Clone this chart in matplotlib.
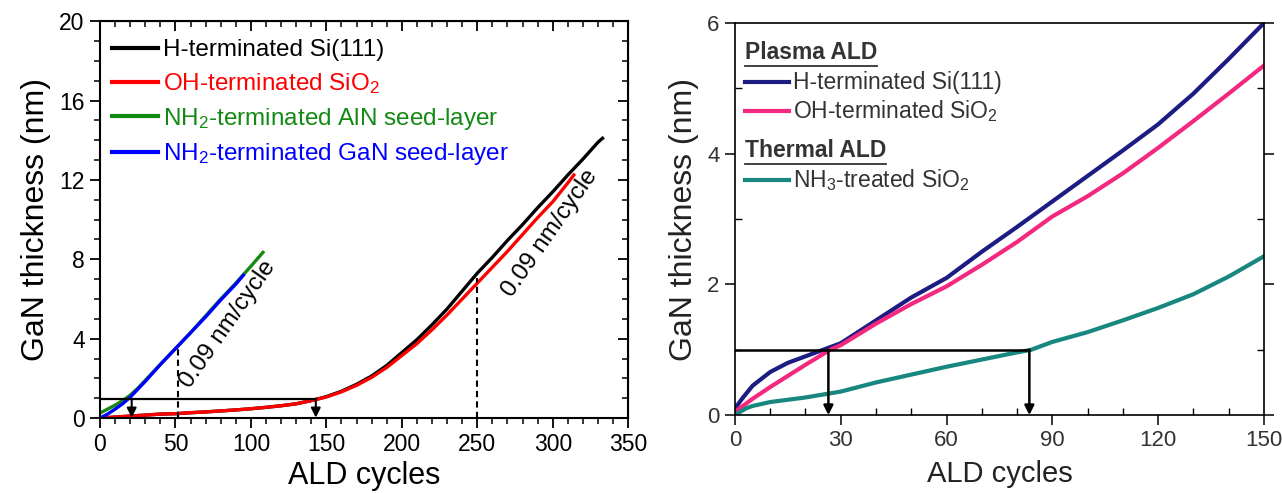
import matplotlib.pyplot as plt
import numpy as np
from matplotlib.ticker import MultipleLocator

plt.rcParams['font.family'] = ['Liberation Sans', 'DejaVu Sans']
plt.rcParams['mathtext.default'] = 'regular'

# ---- left panel data (ALD cycles, GaN thickness nm) ----
si_x = [0, 10, 20, 30, 40, 50, 60, 70, 80, 90, 100, 110, 120, 130, 140, 150, 160, 170, 180,
        190, 200, 210, 220, 230, 240, 250, 260, 270, 280, 290, 300, 310, 320, 330, 333]
si_y = [0, 0.05, 0.1, 0.15, 0.2, 0.22, 0.27, 0.31, 0.36, 0.41, 0.47, 0.54, 0.62, 0.72, 0.88,
        1.08, 1.35, 1.7, 2.12, 2.65, 3.3, 3.95, 4.7, 5.5, 6.4, 7.3, 8.1, 8.95, 9.75, 10.6,
        11.4, 12.25, 13.05, 13.9, 14.1]
sio2_x = [0, 10, 20, 30, 40, 50, 60, 70, 80, 90, 100, 110, 120, 130, 140, 150, 160, 170, 180,
          190, 200, 210, 220, 230, 240, 250, 260, 270, 280, 290, 300, 310, 314]
sio2_y = [0, 0.05, 0.1, 0.15, 0.2, 0.22, 0.27, 0.31, 0.36, 0.41, 0.47, 0.54, 0.62, 0.72, 0.88,
          1.06, 1.32, 1.65, 2.05, 2.55, 3.15, 3.75, 4.45, 5.2, 6.0, 6.8, 7.6, 8.4, 9.25,
          10.1, 10.9, 11.85, 12.25]
aln_x = [0, 5, 10, 15, 20, 25, 30, 40, 50, 60, 70, 80, 90, 100, 108]
aln_y = [0.25, 0.45, 0.65, 0.88, 1.15, 1.5, 1.9, 2.7, 3.5, 4.3, 5.15, 6.0, 6.8, 7.65, 8.35]
gan_x = [0, 5, 10, 15, 20, 25, 30, 40, 50, 60, 70, 80, 90, 95]
gan_y = [0, 0.2, 0.45, 0.72, 1.05, 1.45, 1.85, 2.7, 3.5, 4.3, 5.1, 5.95, 6.75, 7.2]
left_labels = ['H-terminated Si(111)', 'OH-terminated SiO$_2$',
               'NH$_2$-terminated AlN seed-layer', 'NH$_2$-terminated GaN seed-layer']
left_colors = ['black', '#ff0000', '#138a13', '#0000ff']
left_arrows = [21, 143]
left_dashed = [(52, 3.55), (250, 7.05)]
slope_text = [(85, 4.7), (298, 9.3)]

# ---- right panel data ----
r_si_x = [0, 2, 5, 10, 15, 20, 25, 30, 40, 50, 60, 70, 80, 90, 100, 110, 120, 130, 140, 150]
r_si_y = [0.1, 0.25, 0.45, 0.66, 0.8, 0.9, 1.0, 1.1, 1.45, 1.8, 2.1, 2.5, 2.88, 3.27, 3.66,
          4.05, 4.45, 4.92, 5.45, 6.0]
r_sio2_x = [0, 5, 10, 15, 20, 27, 30, 40, 50, 60, 70, 80, 90, 100, 110, 120, 130, 140, 150]
r_sio2_y = [0.05, 0.25, 0.43, 0.6, 0.77, 1.0, 1.07, 1.4, 1.7, 1.97, 2.3, 2.65, 3.04, 3.35,
            3.7, 4.09, 4.5, 4.92, 5.35]
r_nh3_x = [0, 3, 5, 10, 20, 30, 40, 50, 60, 70, 80, 84, 90, 100, 110, 120, 130, 140, 150]
r_nh3_y = [0, 0.1, 0.14, 0.2, 0.27, 0.36, 0.5, 0.62, 0.74, 0.85, 0.96, 1.0, 1.12, 1.27,
           1.45, 1.64, 1.85, 2.12, 2.43]
right_colors = ['#1c1c82', '#f5287f', '#17877f']
right_arrows = [26.5, 83.5]

fig = plt.figure(figsize=(12.82, 4.93), dpi=100)

# ==================== left ====================
ax = fig.add_axes([0.078, 0.152, 0.412, 0.805])
for xs, ys, c, lab in zip([si_x, sio2_x, aln_x, gan_x], [si_y, sio2_y, aln_y, gan_y],
                          left_colors, left_labels):
    ax.plot(xs, ys, color=c, lw=2.4, label=lab)

ax.plot([0, left_arrows[1]], [0.95, 0.95], color='black', lw=1.6)
for xa in left_arrows:
    ax.annotate('', xy=(xa, 0.02), xytext=(xa, 0.97),
                arrowprops=dict(arrowstyle='-|>', color='black', lw=1.5, mutation_scale=14,
                                shrinkA=0, shrinkB=0))
for xd, yd in left_dashed:
    ax.plot([xd, xd], [0, yd], color='black', lw=1.5, ls=(0, (3, 2)))

for tx, ty in slope_text:
    ax.text(tx, ty, '0.09 nm/cycle', rotation=55, fontsize=17.5, ha='center', va='center')

ax.set_xlim(0, 350)
ax.set_ylim(0, 20)
ax.xaxis.set_major_locator(MultipleLocator(50))
ax.xaxis.set_minor_locator(MultipleLocator(10))
ax.yaxis.set_major_locator(MultipleLocator(4))
ax.yaxis.set_minor_locator(MultipleLocator(1))
ax.tick_params(which='major', direction='out', length=7, width=1.3, labelsize=16.5, pad=4)
ax.tick_params(which='minor', direction='out', length=4, width=1.1)
for s in ax.spines.values():
    s.set_linewidth(1.5)
ax.set_xlabel('ALD cycles', fontsize=22, labelpad=3)
ax.set_ylabel('GaN thickness (nm)', fontsize=23, labelpad=6)

# mirrored ticks pointing inward on top/right
top = ax.secondary_xaxis('top')
top.xaxis.set_major_locator(MultipleLocator(50))
top.xaxis.set_minor_locator(MultipleLocator(10))
top.tick_params(which='major', direction='in', length=7, width=1.3, labeltop=False)
top.tick_params(which='minor', direction='in', length=4, width=1.1)
rgt = ax.secondary_yaxis('right')
rgt.yaxis.set_major_locator(MultipleLocator(4))
rgt.yaxis.set_minor_locator(MultipleLocator(1))
rgt.tick_params(which='major', direction='in', length=7, width=1.3, labelright=False)
rgt.tick_params(which='minor', direction='in', length=4, width=1.1)

leg = ax.legend(loc='upper left', frameon=False, fontsize=17.5, handlelength=1.9,
                handletextpad=0.2, labelspacing=0.4, borderaxespad=0.1,
                labelcolor='linecolor', bbox_to_anchor=(0.0, 0.985))
for ln in leg.get_lines():
    ln.set_linewidth(3)

# ==================== right ====================
ax2 = fig.add_axes([0.5733, 0.158, 0.4125, 0.795])
for xs, ys, c in zip([r_si_x, r_sio2_x, r_nh3_x], [r_si_y, r_sio2_y, r_nh3_y], right_colors):
    ax2.plot(xs, ys, color=c, lw=3)

ax2.plot([0, right_arrows[1]], [1.0, 1.0], color='black', lw=1.8)
for xa in right_arrows:
    ax2.annotate('', xy=(xa, 0.0), xytext=(xa, 1.0),
                 arrowprops=dict(arrowstyle='-|>', color='black', lw=1.8, mutation_scale=14,
                                 shrinkA=0, shrinkB=0))

ax2.set_xlim(0, 150)
ax2.set_ylim(0, 6)
ax2.xaxis.set_major_locator(MultipleLocator(30))
ax2.xaxis.set_minor_locator(MultipleLocator(10))
ax2.yaxis.set_major_locator(MultipleLocator(2))
ax2.yaxis.set_minor_locator(MultipleLocator(1))
ax2.tick_params(which='major', direction='out', length=7, width=1.1, labelsize=16,
                labelcolor='#333333', pad=4)
ax2.tick_params(which='minor', direction='in', length=5, width=1.0, right=True)
ax2.tick_params(which='major', right=True)
for s in ax2.spines.values():
    s.set_linewidth(1.2)
ax2.set_xlabel('ALD cycles', fontsize=21, labelpad=6, color='#222222')
ax2.set_ylabel('GaN thickness (nm)', fontsize=23, labelpad=6, color='#222222')

# legend block drawn by hand (headings are underlined)
rows = [('Plasma ALD', None, 0.926), ('H-terminated Si(111)', right_colors[0], 0.849),
        ('OH-terminated SiO$_2$', right_colors[1], 0.776), ('Thermal ALD', None, 0.676),
        ('NH$_3$-treated SiO$_2$', right_colors[2], 0.600)]
heads = []
for txt, c, y in rows:
    if c is None:
        t = ax2.text(0.019, y, txt, transform=ax2.transAxes, fontsize=16.5, fontweight='bold',
                     color='#333333', va='center', ha='left')
        heads.append((t, y))
    else:
        ax2.plot([0.019, 0.103], [y, y], transform=ax2.transAxes, color=c, lw=3)
        ax2.text(0.109, y, txt, transform=ax2.transAxes, fontsize=16.5, color='#333333',
                 va='center', ha='left')

fig.canvas.draw()
inv = ax2.transAxes.inverted()
for t, y in heads:
    bb = t.get_window_extent()
    (x0, y0), (x1, _) = inv.transform([[bb.x0, bb.y0], [bb.x1, bb.y1]])
    ax2.plot([x0, x1], [y0 - 0.005, y0 - 0.005], transform=ax2.transAxes,
             color='#333333', lw=1.3)

fig.savefig('out.png', dpi=100)
